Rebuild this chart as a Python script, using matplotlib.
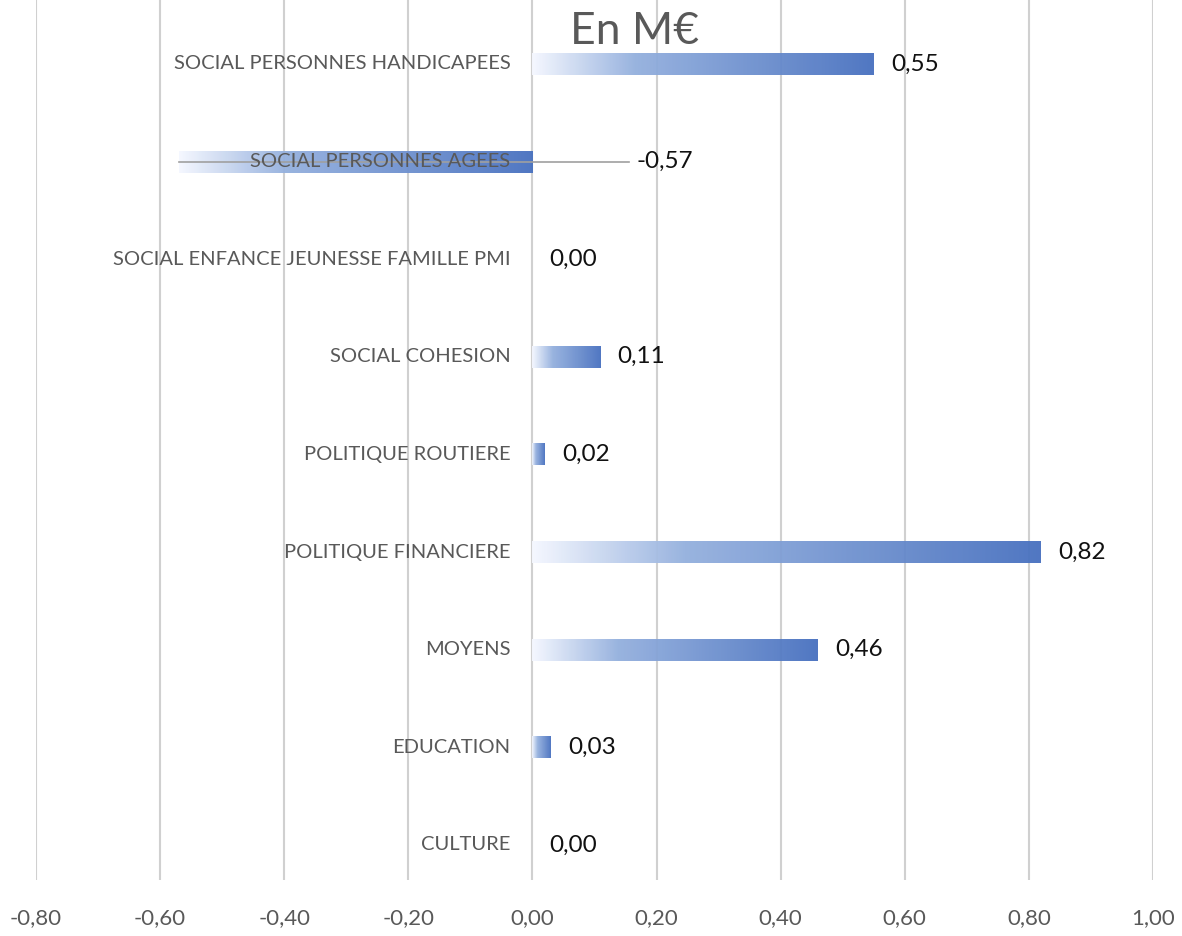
import matplotlib
matplotlib.use("Agg")
import matplotlib.pyplot as plt
import numpy as np
from matplotlib.colors import LinearSegmentedColormap

categories = ["CULTURE", "EDUCATION", "MOYENS", "POLITIQUE FINANCIERE",
              "POLITIQUE ROUTIERE", "SOCIAL COHESION",
              "SOCIAL ENFANCE JEUNESSE FAMILLE PMI",
              "SOCIAL PERSONNES AGEES", "SOCIAL PERSONNES HANDICAPEES"]
values = [0.00, 0.03, 0.46, 0.82, 0.02, 0.11, 0.00, -0.57, 0.55]
xticks = [-0.8, -0.6, -0.4, -0.2, 0.0, 0.2, 0.4, 0.6, 0.8, 1.0]

plt.rcParams['font.family'] = ['Lato', 'DejaVu Sans']

fig = plt.figure(figsize=(11.82, 9.36), dpi=100)
ax = fig.add_axes([36/1182, 56/936, (1153-36)/1182, 880/936])

cmap = LinearSegmentedColormap.from_list(
    "grad", [(0.0, (0.96, 0.97, 1.0)), (0.3, (0.58, 0.69, 0.87)),
             (1.0, (0.28, 0.44, 0.75))])
grad = np.linspace(0, 1, 256).reshape(1, -1)
h = 0.225

for i, (cat, v) in enumerate(zip(categories, values)):
    if v != 0:
        x0, x1 = min(0, v), max(0, v)
        ax.imshow(grad, cmap=cmap, aspect='auto', extent=[x0, x1, i - h/2, i + h/2],
                  zorder=2, interpolation='bilinear', alpha=0.95)
    ax.annotate(cat, xy=(0, i), xytext=(-22, 0), textcoords='offset pixels',
                ha='right', va='center', fontsize=14.5, color='#595959', zorder=4)
    if v < 0:
        lx = 0.155
        ax.plot([v, lx], [i, i], color='#A0A0A0', lw=1.2, zorder=3)
        ax.annotate(f"{v:.2f}".replace('.', ','), xy=(lx, i), xytext=(8, 0),
                    textcoords='offset pixels', ha='left', va='center',
                    fontsize=17.5, color='#111111')
    else:
        ax.annotate(f"{v:.2f}".replace('.', ','), xy=(v, i), xytext=(17, 0),
                    textcoords='offset pixels', ha='left', va='center',
                    fontsize=17.5, color='#111111')

ax.set_xlim(-0.8, 1.0)
ax.set_ylim(-0.36, 8.655)
ax.set_xticks(xticks)
ax.set_xticklabels([f"{t:.2f}".replace('.', ',') for t in xticks],
                   fontsize=16, color='#595959')
ax.tick_params(axis='x', length=0, pad=20)
ax.set_yticks([])
ax.grid(axis='x', color='#D0D0D0', lw=1.5, zorder=0)
ax.set_axisbelow(True)
for s in ax.spines.values():
    s.set_visible(False)

fig.text(635/1182, 1 - 32/936, "En M€", ha='center', va='center',
         fontsize=32, color='#595959')

fig.savefig("out.png", dpi=100)
